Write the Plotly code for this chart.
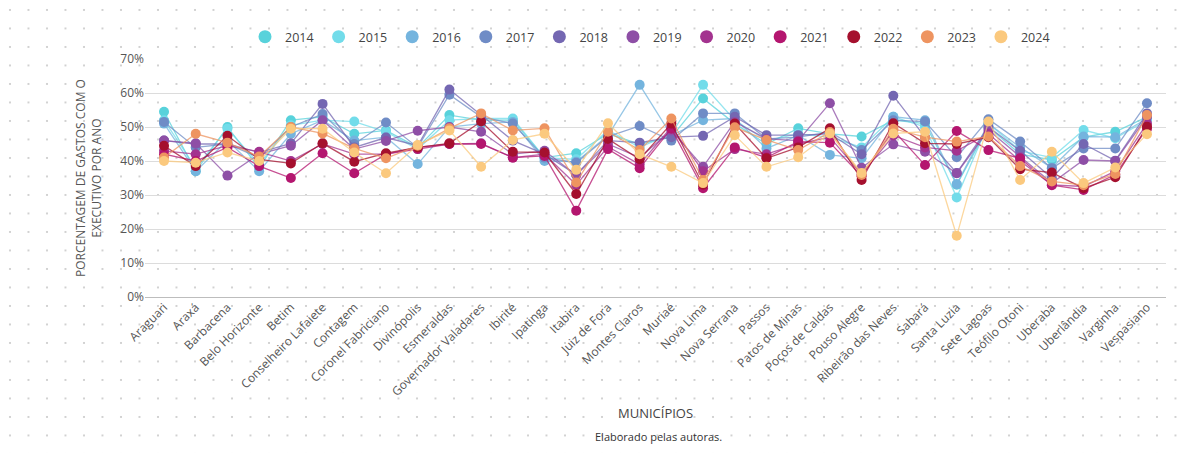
import plotly.graph_objects as go

municipios = ["Araguari", "Araxá", "Barbacena", "Belo Horizonte", "Betim", "Conselheiro Lafaiete",
              "Contagem", "Coronel Fabriciano", "Divinópolis", "Esmeraldas", "Governador Valadares",
              "Ibirité", "Ipatinga", "Itabira", "Juiz de Fora", "Montes Claros", "Muriaé", "Nova Lima",
              "Nova Serrana", "Passos", "Patos de Minas", "Poços de Caldas", "Pouso Alegre",
              "Ribeirão das Neves", "Sabará", "Santa Luzia", "Sete Lagoas", "Teófilo Otoni",
              "Uberaba", "Uberlândia", "Varginha", "Vespasiano"]

anos = ["2014", "2015", "2016", "2017", "2018", "2019", "2020", "2021", "2022", "2023", "2024"]

v2014 = [54.5, 37.0, 50.0, 38.0, 52.0, 53.0, 48.0, 49.0, 44.0, 53.5, 52.0, 52.0, 41.0, 42.3, 48.0, 45.0,
         47.0, 58.4, 51.0, 45.0, 49.6, 48.0, 47.2, 52.0, 51.0, 33.0, 50.0, 42.0, 40.3, 47.0, 48.6, 53.0]
v2015 = [52.0, 38.0, 49.5, 39.0, 50.5, 52.0, 51.6, 48.6, 43.5, 52.0, 52.5, 52.5, 41.0, 40.5, 49.0, 44.0,
         48.0, 62.4, 52.0, 46.0, 48.0, 47.0, 44.0, 53.0, 50.0, 29.3, 51.0, 43.0, 41.0, 49.1, 46.7, 52.0]
v2016 = [51.0, 37.0, 46.0, 37.0, 48.0, 52.0, 46.0, 47.0, 39.1, 50.0, 51.0, 51.5, 40.0, 39.8, 47.5, 62.4,
         47.5, 52.0, 52.5, 43.7, 47.5, 41.8, 40.8, 53.0, 52.0, 33.2, 51.0, 44.0, 38.0, 47.2, 47.0, 52.5]
v2017 = [51.5, 44.0, 45.0, 41.0, 50.0, 53.8, 45.0, 51.3, 44.0, 59.5, 53.0, 51.0, 41.0, 39.5, 47.2, 50.3,
         46.0, 54.0, 54.0, 46.5, 47.0, 48.5, 43.2, 52.0, 51.6, 41.1, 52.3, 45.7, 37.9, 43.7, 43.7, 57.0]
v2018 = [46.0, 45.0, 45.0, 42.5, 45.2, 56.8, 44.0, 46.9, 44.5, 61.0, 53.5, 46.0, 42.0, 36.0, 46.0, 45.4,
         47.0, 47.4, 53.0, 47.6, 47.6, 48.0, 42.0, 59.2, 47.0, 36.5, 50.0, 43.0, 35.0, 45.0, 40.1, 54.0]
v2019 = [46.0, 45.2, 35.7, 42.0, 44.5, 52.0, 43.5, 45.9, 48.9, 50.0, 48.6, 42.0, 43.0, 35.9, 45.0, 41.0,
         49.0, 38.3, 51.5, 46.5, 46.0, 57.0, 38.0, 44.9, 42.7, 36.4, 49.1, 41.2, 33.5, 40.3, 40.0, 53.0]
v2020 = [43.0, 42.0, 44.5, 42.7, 40.0, 45.0, 42.0, 42.0, 44.0, 45.0, 45.2, 41.0, 42.0, 33.0, 44.2, 39.0,
         50.0, 37.0, 43.5, 42.0, 45.0, 47.0, 36.0, 47.5, 44.0, 43.0, 48.0, 40.0, 33.0, 32.5, 37.0, 51.0]
v2021 = [42.0, 40.0, 44.0, 38.5, 35.0, 42.3, 36.4, 42.0, 43.5, 45.0, 45.0, 41.0, 41.5, 25.4, 43.5, 37.9,
         49.5, 32.0, 44.0, 41.0, 45.7, 45.4, 35.5, 49.0, 38.8, 48.8, 43.2, 40.8, 32.9, 31.5, 36.0, 49.5]
v2022 = [44.5, 38.5, 47.4, 40.5, 39.3, 45.2, 39.8, 42.3, 44.0, 45.2, 51.6, 42.7, 42.5, 30.3, 46.5, 40.5,
         51.0, 33.0, 51.0, 40.8, 44.0, 49.6, 34.4, 51.1, 45.2, 45.0, 47.0, 37.6, 36.6, 32.0, 35.2, 50.1]
v2023 = [41.0, 48.0, 45.4, 41.3, 50.0, 48.1, 43.7, 40.8, 44.5, 49.6, 54.0, 49.0, 49.6, 33.7, 48.6, 43.2,
         52.5, 34.4, 49.9, 46.2, 43.2, 48.5, 35.9, 49.5, 47.0, 45.7, 47.2, 38.5, 34.0, 32.9, 36.2, 53.5]
v2024 = [40.0, 39.5, 42.5, 40.0, 49.5, 49.5, 42.5, 36.4, 44.7, 49.0, 38.3, 46.2, 48.0, 37.4, 51.1, 42.0,
         38.3, 33.5, 47.6, 38.3, 41.1, 48.1, 36.5, 48.1, 48.6, 18.0, 51.6, 34.4, 42.7, 33.5, 38.1, 47.9]

valores = [v2014, v2015, v2016, v2017, v2018, v2019, v2020, v2021, v2022, v2023, v2024]

cores = ["#58d2db", "#72dcea", "#74b4de", "#6f8cc6", "#7467b2", "#8e4fa6",
         "#a3338f", "#b4166f", "#a5102e", "#ee9460", "#fbc97e"]


def rgba(hexc, a):
    h = hexc.lstrip("#")
    r, g, b = int(h[0:2], 16), int(h[2:4], 16), int(h[4:6], 16)
    return f"rgba({r},{g},{b},{a})"


# the page body adds an 8px offset; figure coords = page coords - 8
OFF = 8
W, H = 1196 - OFF, 453 - OFF
L, R, T = 145 - OFF, 30, 59 - OFF
B = H - (297 - OFF)
PW, PH = W - L - R, H - T - B


def px(xp):
    return (xp - OFF - L) / PW


def py(yp):
    return (H - B - (yp - OFF)) / PH


fig = go.Figure()

for ano, vals, cor in zip(anos, valores, cores):
    fig.add_trace(go.Scatter(
        x=municipios, y=vals, mode="lines+markers", name=ano,
        line=dict(color=rgba(cor, 0.75), width=1.3),
        marker=dict(color=cor, size=10),
        showlegend=False,
        hovertemplate="%{x}: %{y:.1f}%<extra>" + ano + "</extra>",
    ))

# legend entries shown as circles only
for ano, cor in zip(anos, cores):
    fig.add_trace(go.Scatter(
        x=[None], y=[None], mode="markers", name=ano,
        marker=dict(color=cor, size=13), showlegend=True,
    ))

# dotted page background via an inline SVG pattern
svg = ("<svg xmlns='http://www.w3.org/2000/svg' width='%d' height='%d'>"
       "<defs><pattern id='p' x='0' y='0' width='18.5' height='18.5' patternUnits='userSpaceOnUse'>"
       "<circle cx='2' cy='2' r='1' fill='%%23c4c4c4'/></pattern></defs>"
       "<rect width='%d' height='%d' fill='url(%%23p)'/></svg>") % (W, H, W, H)
fig.add_layout_image(dict(
    source="data:image/svg+xml;utf8," + svg,
    xref="paper", yref="paper", x=-L / PW, y=1 + T / PH,
    sizex=W / PW, sizey=H / PH, xanchor="left", yanchor="top",
    sizing="stretch", layer="below", opacity=1,
))

fig.update_layout(
    width=W, height=H,
    margin=dict(l=L, r=R, t=T, b=B, autoexpand=False),
    paper_bgcolor="white", plot_bgcolor="rgba(0,0,0,0)",
    font=dict(family="Open Sans, Segoe UI, sans-serif", color="#555555", size=12),
    legend=dict(orientation="h", x=px(650), xanchor="center", y=py(37), yanchor="middle",
                font=dict(size=12.5, color="#444444"), bgcolor="rgba(0,0,0,0)",
                itemwidth=30, tracegroupgap=0),
    xaxis=dict(
        type="category", range=[-0.6, 31.6], tickangle=-45, automargin=False,
        showgrid=False, showline=False, ticks="",
        tickfont=dict(size=12, color="#555555"),
    ),
    yaxis=dict(
        range=[0, 70], dtick=10, ticksuffix="%", showgrid=True, gridcolor="#dcdcdc",
        gridwidth=1, zeroline=True, zerolinecolor="#bdbdbd", zerolinewidth=1, automargin=False,
        tickfont=dict(size=12, color="#555555"), ticks="", ticklen=0,
    ),
    annotations=[
        dict(text="PORCENTAGEM DE GASTOS COM O<br>EXECUTIVO POR ANO", xref="paper", yref="paper",
             x=px(88), y=py(178), xanchor="center", yanchor="middle",
             textangle=-90, showarrow=False, font=dict(size=12, color="#555555")),
        dict(text="MUNICÍPIOS", xref="paper", yref="paper",
             x=px(655), y=py(413), xanchor="center", yanchor="middle",
             showarrow=False, font=dict(size=13, color="#444444")),
        dict(text="Elaborado pelas autoras.", xref="paper", yref="paper",
             x=px(658), y=py(436), xanchor="center", yanchor="middle",
             showarrow=False, font=dict(size=11, color="#333333")),
    ],
)

fig.write_html("out.html")
